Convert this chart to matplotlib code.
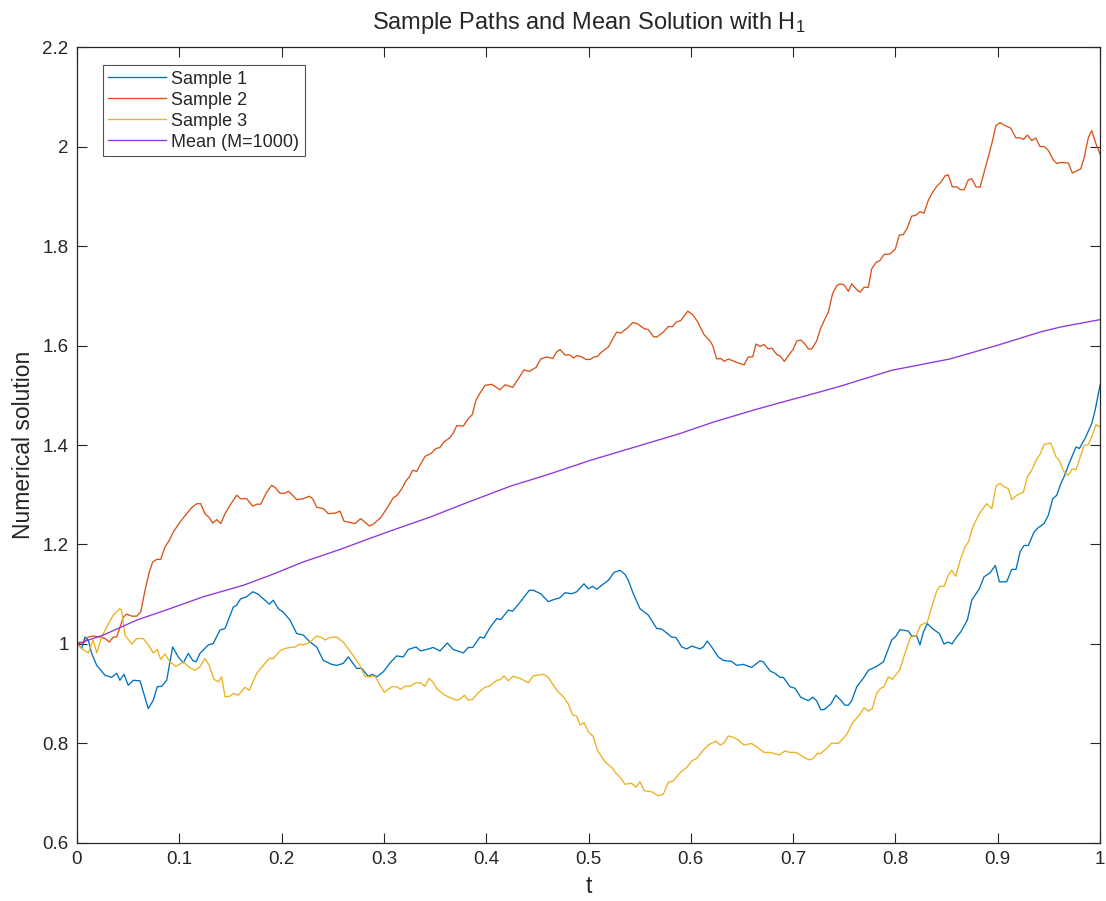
import matplotlib
matplotlib.use("Agg")
import matplotlib.pyplot as plt
from matplotlib.ticker import FuncFormatter

plt.rcParams['font.family'] = ['Liberation Sans', 'DejaVu Sans']
plt.rcParams['mathtext.fontset'] = 'custom'
plt.rcParams['mathtext.rm'] = 'Liberation Sans'
plt.rcParams['mathtext.it'] = 'Liberation Sans'

# sample path 1
t1 = [0.000, 0.0046, 0.0078, 0.011, 0.0144, 0.0193, 0.0274, 0.0339, 0.0388, 0.042,
      0.0459, 0.0501, 0.055, 0.0616, 0.0697, 0.0746, 0.0785, 0.0828, 0.0877, 0.0935,
      0.099, 0.1039, 0.1088, 0.1131, 0.1163, 0.1202, 0.1283, 0.1332, 0.1398, 0.1447,
      0.1528, 0.1561, 0.16, 0.1659, 0.1718, 0.1772, 0.188, 0.1919, 0.1968, 0.2017,
      0.2082, 0.2148, 0.2212, 0.2278, 0.2343, 0.2408, 0.249, 0.2539, 0.2603, 0.2652,
      0.2734, 0.2783, 0.2848, 0.289, 0.293, 0.2994, 0.306, 0.3125, 0.319, 0.3239,
      0.3314, 0.336, 0.3418, 0.3483, 0.3548, 0.362, 0.3678, 0.3776, 0.3825, 0.3868,
      0.3939, 0.3978, 0.4037, 0.4103, 0.4142, 0.4216, 0.4259, 0.4347, 0.4421, 0.446,
      0.4533, 0.4607, 0.4656, 0.4721, 0.477, 0.4836, 0.4885, 0.4956, 0.4998, 0.5041,
      0.508, 0.5129, 0.5194, 0.525, 0.531, 0.5357, 0.5389, 0.5438, 0.5503, 0.5585,
      0.5667, 0.5716, 0.5813, 0.5855, 0.5911, 0.596, 0.6009, 0.609, 0.6122, 0.6161,
      0.6204, 0.6269, 0.6318, 0.6399, 0.6448, 0.6513, 0.6595, 0.6676, 0.6709, 0.6774,
      0.6823, 0.6872, 0.6904, 0.697, 0.7019, 0.7074, 0.7149, 0.7191, 0.723, 0.727,
      0.7302, 0.7367, 0.7419, 0.7465, 0.7507, 0.754, 0.7573, 0.7622, 0.7686, 0.7735,
      0.7817, 0.7882, 0.7964, 0.8006, 0.8045, 0.8126, 0.8159, 0.8208, 0.824, 0.8273,
      0.8312, 0.8355, 0.8429, 0.8475, 0.8517, 0.8553, 0.8599, 0.8638, 0.8703, 0.8746,
      0.882, 0.8866, 0.8925, 0.8977, 0.9016, 0.9088, 0.9137, 0.9179, 0.9218, 0.9257,
      0.9299, 0.9355, 0.9397, 0.9453, 0.9495, 0.9538, 0.9577, 0.9616, 0.9648, 0.969,
      0.9765, 0.9798, 0.9853, 0.9919, 0.9951, 1.0]
y1 = [1.001, 0.991, 1.014, 1.008, 0.981, 0.957, 0.937, 0.933, 0.941, 0.927,
      0.939, 0.917, 0.927, 0.926, 0.870, 0.887, 0.914, 0.915, 0.927, 0.994,
      0.974, 0.962, 0.981, 0.967, 0.964, 0.981, 0.998, 1.001, 1.028, 1.031,
      1.074, 1.078, 1.091, 1.095, 1.105, 1.100, 1.080, 1.088, 1.071, 1.064,
      1.048, 1.021, 1.018, 1.004, 0.994, 0.967, 0.959, 0.957, 0.961, 0.974,
      0.951, 0.951, 0.935, 0.939, 0.934, 0.944, 0.962, 0.976, 0.974, 0.989,
      0.994, 0.986, 0.989, 0.993, 0.986, 1.002, 0.989, 0.982, 0.993, 0.993,
      1.014, 1.012, 1.033, 1.051, 1.049, 1.068, 1.066, 1.088, 1.108, 1.108,
      1.101, 1.085, 1.089, 1.093, 1.103, 1.101, 1.105, 1.121, 1.111, 1.116,
      1.110, 1.118, 1.128, 1.144, 1.148, 1.140, 1.128, 1.101, 1.071, 1.058,
      1.031, 1.030, 1.014, 1.013, 0.994, 0.990, 0.996, 0.990, 0.994, 1.006,
      0.994, 0.974, 0.967, 0.965, 0.957, 0.959, 0.953, 0.966, 0.964, 0.946,
      0.941, 0.933, 0.933, 0.914, 0.911, 0.893, 0.886, 0.893, 0.886, 0.868,
      0.868, 0.879, 0.897, 0.887, 0.877, 0.877, 0.886, 0.914, 0.931, 0.947,
      0.955, 0.964, 1.008, 1.016, 1.029, 1.026, 1.016, 1.016, 0.998, 1.024,
      1.041, 1.032, 1.021, 1.000, 1.004, 1.000, 1.014, 1.024, 1.048, 1.088,
      1.111, 1.135, 1.143, 1.158, 1.125, 1.125, 1.150, 1.150, 1.185, 1.198,
      1.198, 1.225, 1.234, 1.242, 1.259, 1.292, 1.299, 1.322, 1.336, 1.359,
      1.396, 1.393, 1.413, 1.443, 1.469, 1.520]

# sample path 2
t2 = [0.0, 0.0029, 0.006, 0.011, 0.0159, 0.0225, 0.0274, 0.0316, 0.0355, 0.0388,
      0.042, 0.0453, 0.0486, 0.0535, 0.0584, 0.0623, 0.0665, 0.0707, 0.074, 0.0779,
      0.0818, 0.086, 0.0902, 0.0941, 0.1007, 0.1072, 0.1121, 0.117, 0.1209, 0.1251,
      0.1293, 0.1327, 0.1366, 0.1405, 0.1447, 0.1496, 0.1561, 0.16, 0.1659, 0.1718,
      0.1757, 0.1796, 0.1854, 0.1903, 0.1935, 0.1984, 0.2033, 0.2066, 0.2108, 0.2148,
      0.2212, 0.2271, 0.2304, 0.2343, 0.2408, 0.2457, 0.2522, 0.2571, 0.261, 0.2652,
      0.2717, 0.2773, 0.2815, 0.2857, 0.2903, 0.2969, 0.3027, 0.306, 0.3092, 0.3131,
      0.3174, 0.3216, 0.3249, 0.3281, 0.3321, 0.336, 0.3402, 0.3467, 0.351, 0.3548,
      0.3587, 0.3646, 0.3678, 0.3712, 0.3776, 0.3825, 0.3864, 0.39, 0.3939, 0.3988,
      0.4054, 0.4135, 0.4184, 0.4259, 0.4314, 0.437, 0.4421, 0.4487, 0.4533, 0.4592,
      0.465, 0.4689, 0.4721, 0.477, 0.4819, 0.4852, 0.4891, 0.4933, 0.4976, 0.5015,
      0.5054, 0.5086, 0.5129, 0.5194, 0.5236, 0.5276, 0.5315, 0.5379, 0.5432, 0.5477,
      0.5543, 0.5585, 0.5634, 0.5667, 0.5731, 0.578, 0.5823, 0.5855, 0.5901, 0.597,
      0.6018, 0.6063, 0.6129, 0.6188, 0.6214, 0.6253, 0.6292, 0.6327, 0.6366, 0.6449,
      0.652, 0.6562, 0.6605, 0.6637, 0.6676, 0.6716, 0.6758, 0.6791, 0.684, 0.6872,
      0.6914, 0.6963, 0.7002, 0.7035, 0.7074, 0.7116, 0.7149, 0.7182, 0.723, 0.727,
      0.7312, 0.7344, 0.7387, 0.7426, 0.7458, 0.7498, 0.754, 0.7573, 0.7615, 0.7654,
      0.7693, 0.7735, 0.7768, 0.781, 0.7849, 0.7888, 0.7947, 0.7999, 0.8038, 0.8077,
      0.8116, 0.8159, 0.8201, 0.824, 0.8279, 0.8322, 0.8364, 0.8404, 0.8443, 0.8485,
      0.8517, 0.8556, 0.8599, 0.8638, 0.8671, 0.8713, 0.8746, 0.8788, 0.8827, 0.8876,
      0.8941, 0.8983, 0.9022, 0.9071, 0.9127, 0.9179, 0.9218, 0.925, 0.929, 0.9333,
      0.9372, 0.9413, 0.9453, 0.9495, 0.9544, 0.9577, 0.9616, 0.969, 0.9729, 0.9772,
      0.9811, 0.9844, 0.9886, 0.9919, 0.9961, 1.0]
y2 = [1.001, 1.004, 1.001, 1.014, 1.016, 1.014, 1.011, 1.004, 1.014, 1.014,
      1.034, 1.054, 1.060, 1.056, 1.056, 1.064, 1.108, 1.145, 1.165, 1.170,
      1.170, 1.195, 1.208, 1.225, 1.245, 1.262, 1.274, 1.282, 1.282, 1.262,
      1.254, 1.243, 1.250, 1.242, 1.262, 1.279, 1.299, 1.292, 1.292, 1.277,
      1.281, 1.281, 1.305, 1.319, 1.315, 1.303, 1.303, 1.307, 1.299, 1.290,
      1.292, 1.297, 1.292, 1.275, 1.272, 1.262, 1.263, 1.267, 1.247, 1.245,
      1.242, 1.252, 1.245, 1.237, 1.242, 1.254, 1.272, 1.283, 1.294, 1.299,
      1.312, 1.328, 1.336, 1.349, 1.347, 1.362, 1.377, 1.384, 1.393, 1.395,
      1.406, 1.415, 1.424, 1.439, 1.438, 1.453, 1.461, 1.490, 1.504, 1.520,
      1.522, 1.511, 1.521, 1.516, 1.533, 1.551, 1.548, 1.556, 1.573, 1.577,
      1.574, 1.587, 1.592, 1.581, 1.581, 1.575, 1.580, 1.577, 1.572, 1.572,
      1.577, 1.578, 1.587, 1.597, 1.613, 1.627, 1.625, 1.635, 1.646, 1.644,
      1.634, 1.632, 1.618, 1.617, 1.627, 1.638, 1.638, 1.647, 1.650, 1.669,
      1.662, 1.649, 1.622, 1.609, 1.600, 1.573, 1.574, 1.568, 1.573, 1.566,
      1.561, 1.577, 1.577, 1.603, 1.598, 1.602, 1.593, 1.595, 1.582, 1.579,
      1.568, 1.582, 1.593, 1.609, 1.611, 1.603, 1.593, 1.593, 1.609, 1.635,
      1.654, 1.667, 1.705, 1.720, 1.724, 1.722, 1.709, 1.724, 1.714, 1.707,
      1.717, 1.717, 1.754, 1.767, 1.771, 1.783, 1.784, 1.794, 1.822, 1.823,
      1.836, 1.860, 1.862, 1.869, 1.866, 1.892, 1.908, 1.920, 1.928, 1.941,
      1.943, 1.919, 1.919, 1.913, 1.913, 1.933, 1.935, 1.919, 1.918, 1.955,
      2.005, 2.042, 2.048, 2.042, 2.037, 2.017, 2.018, 2.014, 2.023, 2.012,
      2.017, 2.000, 2.000, 1.992, 1.973, 1.966, 1.968, 1.967, 1.947, 1.951,
      1.955, 1.977, 2.018, 2.032, 2.005, 1.985]

# sample path 3
t3 = [0.0, 0.0046, 0.011, 0.0159, 0.0193, 0.0241, 0.029, 0.0355, 0.042, 0.0436,
      0.0469, 0.0535, 0.0584, 0.0648, 0.0697, 0.0746, 0.0785, 0.0818, 0.086, 0.0909,
      0.0968, 0.1039, 0.1098, 0.1153, 0.1202, 0.1251, 0.1293, 0.1339, 0.1381, 0.1414,
      0.1447, 0.1496, 0.1528, 0.1577, 0.1642, 0.1684, 0.1757, 0.1821, 0.188, 0.1919,
      0.1984, 0.2033, 0.2082, 0.2131, 0.218, 0.2212, 0.2278, 0.2343, 0.2392, 0.2424,
      0.2473, 0.2539, 0.2603, 0.2685, 0.2766, 0.2815, 0.2848, 0.2913, 0.3004, 0.3076,
      0.3125, 0.3164, 0.3206, 0.3255, 0.3314, 0.336, 0.3402, 0.3441, 0.3477, 0.3522,
      0.3597, 0.3639, 0.3712, 0.3744, 0.3786, 0.3825, 0.3868, 0.3923, 0.3988, 0.403,
      0.4103, 0.4135, 0.4174, 0.4216, 0.4259, 0.433, 0.4412, 0.446, 0.4558, 0.4607,
      0.4689, 0.4754, 0.4803, 0.4846, 0.4885, 0.4917, 0.4956, 0.4998, 0.5047, 0.5086,
      0.5161, 0.5227, 0.5269, 0.5308, 0.5357, 0.5422, 0.5464, 0.5503, 0.5545, 0.5618,
      0.5682, 0.5731, 0.578, 0.5829, 0.5894, 0.596, 0.6009, 0.6058, 0.6107, 0.6171,
      0.6246, 0.6286, 0.6325, 0.6366, 0.641, 0.6464, 0.652, 0.6595, 0.666, 0.6716,
      0.6774, 0.6865, 0.6921, 0.697, 0.7028, 0.71, 0.7158, 0.7197, 0.7237, 0.727,
      0.7328, 0.7377, 0.7442, 0.7524, 0.7583, 0.7647, 0.7693, 0.7735, 0.7774, 0.7817,
      0.7856, 0.7888, 0.7931, 0.797, 0.8045, 0.8094, 0.815, 0.8201, 0.8247, 0.8312,
      0.8345, 0.8404, 0.8436, 0.8475, 0.8517, 0.855, 0.8589, 0.8632, 0.868, 0.8713,
      0.8756, 0.882, 0.8892, 0.8942, 0.8983, 0.9022, 0.9055, 0.9104, 0.9137, 0.9186,
      0.925, 0.929, 0.9333, 0.9382, 0.9413, 0.9453, 0.9518, 0.957, 0.9602, 0.9648,
      0.969, 0.9729, 0.9765, 0.9811, 0.9844, 0.9886, 0.9919, 0.9961, 1.0]
y3 = [1.001, 0.991, 0.982, 1.008, 0.982, 1.014, 1.034, 1.058, 1.071, 1.068,
      1.018, 1.000, 1.011, 1.011, 0.998, 0.982, 0.989, 0.969, 0.980, 0.964,
      0.955, 0.964, 0.953, 0.947, 0.954, 0.971, 0.957, 0.929, 0.924, 0.934,
      0.894, 0.895, 0.901, 0.897, 0.913, 0.907, 0.941, 0.957, 0.971, 0.971,
      0.986, 0.991, 0.993, 0.994, 1.000, 0.998, 1.004, 1.016, 1.013, 1.008,
      1.013, 1.014, 1.004, 0.981, 0.957, 0.935, 0.934, 0.935, 0.903, 0.914,
      0.914, 0.909, 0.915, 0.915, 0.922, 0.922, 0.915, 0.931, 0.924, 0.909,
      0.897, 0.893, 0.887, 0.889, 0.897, 0.887, 0.889, 0.902, 0.913, 0.915,
      0.927, 0.928, 0.936, 0.926, 0.935, 0.931, 0.922, 0.936, 0.939, 0.933,
      0.907, 0.894, 0.879, 0.857, 0.855, 0.837, 0.842, 0.824, 0.814, 0.787,
      0.763, 0.752, 0.740, 0.732, 0.718, 0.720, 0.712, 0.723, 0.705, 0.703,
      0.695, 0.698, 0.722, 0.725, 0.741, 0.752, 0.765, 0.770, 0.783, 0.797,
      0.805, 0.797, 0.801, 0.815, 0.813, 0.807, 0.797, 0.800, 0.791, 0.782,
      0.782, 0.777, 0.785, 0.782, 0.782, 0.773, 0.767, 0.770, 0.780, 0.780,
      0.790, 0.801, 0.800, 0.818, 0.842, 0.857, 0.872, 0.865, 0.870, 0.901,
      0.911, 0.914, 0.934, 0.929, 0.949, 0.982, 1.014, 1.016, 1.038, 1.044,
      1.068, 1.107, 1.116, 1.116, 1.138, 1.148, 1.136, 1.168, 1.195, 1.205,
      1.235, 1.262, 1.282, 1.272, 1.317, 1.323, 1.317, 1.312, 1.290, 1.299,
      1.305, 1.336, 1.350, 1.372, 1.381, 1.401, 1.404, 1.376, 1.369, 1.346,
      1.339, 1.352, 1.350, 1.379, 1.399, 1.401, 1.417, 1.441, 1.436]

# mean over M=1000 paths
t_mean = [0.0, 0.0257, 0.0584, 0.0909, 0.1235, 0.1626, 0.1887, 0.2212, 0.2571, 0.2832,
          0.306, 0.3451, 0.381, 0.4233, 0.4624, 0.5015, 0.5406, 0.5894, 0.622, 0.6611,
          0.6872, 0.7197, 0.7458, 0.796, 0.8534, 0.899, 0.9413, 0.961, 1.0]
y_mean = [1.0, 1.018, 1.048, 1.071, 1.095, 1.118, 1.138, 1.165, 1.190, 1.210,
          1.227, 1.255, 1.284, 1.317, 1.342, 1.369, 1.393, 1.423, 1.446, 1.470,
          1.485, 1.503, 1.518, 1.550, 1.573, 1.600, 1.627, 1.637, 1.652]

xticks = [0, 0.1, 0.2, 0.3, 0.4, 0.5, 0.6, 0.7, 0.8, 0.9, 1]
yticks = [0.6, 0.8, 1.0, 1.2, 1.4, 1.6, 1.8, 2.0, 2.2]

c_blue = (0.0, 0.447, 0.741)
c_orange = (0.85, 0.325, 0.098)
c_yellow = (0.929, 0.694, 0.125)
c_purple = '#8f35e0'
c_axis = (0.15, 0.15, 0.15)

fig = plt.figure(figsize=(11.06, 9.01), dpi=100)
ax = fig.add_axes([0.0696, 0.0644, 0.925, 0.8834])

lw = 0.95
ax.plot(t1, y1, color=c_blue, lw=lw, label='Sample 1')
ax.plot(t2, y2, color=c_orange, lw=lw, label='Sample 2')
ax.plot(t3, y3, color=c_yellow, lw=lw, label='Sample 3')
ax.plot(t_mean, y_mean, color=c_purple, lw=lw, label='Mean (M=1000)')

ax.set_xlim(0, 1)
ax.set_ylim(0.6, 2.2)
ax.set_xticks(xticks)
ax.set_yticks(yticks)
fmt = FuncFormatter(lambda v, p: '%g' % round(v, 2))
ax.xaxis.set_major_formatter(fmt)
ax.yaxis.set_major_formatter(fmt)

ax.tick_params(direction='in', length=7, width=0.8, top=True, right=True,
               colors=c_axis, labelsize=13.5, pad=6)
for s in ax.spines.values():
    s.set_color(c_axis)
    s.set_linewidth(0.9)

ax.set_xlabel('t', fontsize=16.5, color=c_axis, labelpad=5)
ax.set_ylabel('Numerical solution', fontsize=16.5, color=c_axis, labelpad=5)
ax.set_title('Sample Paths and Mean Solution with H$_1$', fontsize=17,
             color=c_axis, pad=13)

leg = ax.legend(loc='upper left', bbox_to_anchor=(0.025, 0.977), fontsize=13,
                frameon=True, fancybox=False, handlelength=3.2, handletextpad=0.3,
                labelspacing=0.22, borderpad=0.3, borderaxespad=0.0)
leg.get_frame().set_edgecolor(c_axis)
leg.get_frame().set_linewidth(0.8)
for txt in leg.get_texts():
    txt.set_color(c_axis)

fig.savefig('out.png', dpi=100)
